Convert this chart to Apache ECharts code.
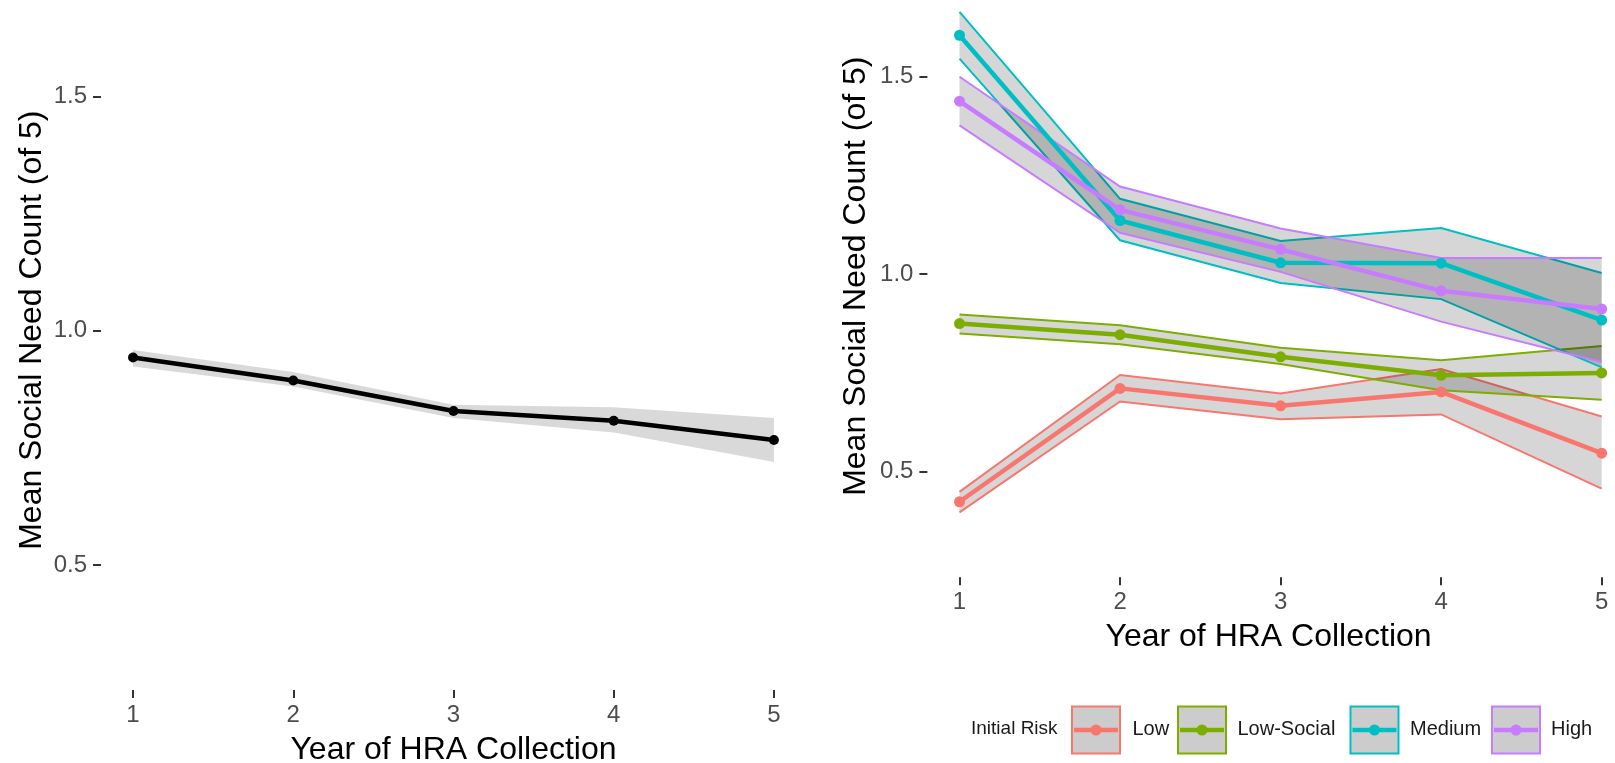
<!DOCTYPE html>
<html lang="en">
<head>
    <meta charset="UTF-8">
    <title>Mean Social Need Count by Year of HRA Collection</title>
    <script src="https://cdn.jsdelivr.net/npm/echarts@6/dist/echarts.min.js"></script>
    <style>
        *{
            padding:0;
            margin:0;
        }
        html,body{
            background:#fff;
        }
        #main{
            width:1615px;
            height:763px;
        }
    </style>
</head>
<body>
<div id="main"></div>
<script>
    // x categories (years) and y tick labels
    var years = [1, 2, 3, 4, 5];
    var yTicks = [0.5, 1.0, 1.5];

    // left panel: all members, mean with confidence band
    var allMean  = [0.943, 0.894, 0.829, 0.808, 0.767];
    var allLower = [0.924, 0.881, 0.814, 0.783, 0.720];
    var allUpper = [0.959, 0.912, 0.842, 0.837, 0.814];

    // right panel: by initial risk
    var riskNames  = ['Low', 'Low-Social', 'Medium', 'High'];
    var riskColors = ['#F8766D', '#7CAE00', '#00BFC4', '#C77CFF'];

    var lowMean  = [0.424, 0.711, 0.667, 0.702, 0.547];
    var lowLower = [0.397, 0.678, 0.633, 0.645, 0.457];
    var lowUpper = [0.449, 0.745, 0.698, 0.760, 0.640];

    var lowSocialMean  = [0.875, 0.847, 0.791, 0.744, 0.750];
    var lowSocialLower = [0.850, 0.823, 0.773, 0.706, 0.682];
    var lowSocialUpper = [0.898, 0.871, 0.814, 0.782, 0.818];

    var mediumMean  = [1.605, 1.136, 1.029, 1.028, 0.884];
    var mediumLower = [1.546, 1.086, 0.978, 0.937, 0.764];
    var mediumUpper = [1.664, 1.191, 1.084, 1.117, 1.003];

    var highMean  = [1.438, 1.163, 1.063, 0.958, 0.912];
    var highLower = [1.377, 1.105, 1.006, 0.880, 0.778];
    var highUpper = [1.500, 1.222, 1.116, 1.041, 1.041];

    var riskMean  = [lowMean, lowSocialMean, mediumMean, highMean];
    var riskLower = [lowLower, lowSocialLower, mediumLower, highLower];
    var riskUpper = [lowUpper, lowSocialUpper, mediumUpper, highUpper];

    var font = "'Liberation Sans', Arial, sans-serif";

    function pairs(vals){
        return years.map(function(x, i){ return [x, vals[i]]; });
    }

    // ribbon: one polygon between lower and upper, drawn once through api.coord
    function band(name, idx, lo, hi, color, outline, alpha){
        return {
            type:'custom', name:name + ' band', xAxisIndex:idx, yAxisIndex:idx,
            silent:true, z:2, clip:true,
            data:years.map(function(x, i){ return [x, lo[i], hi[i]]; }),
            encode:{x:0, y:[1, 2]},
            renderItem:function(params, api){
                if(params.dataIndexInside !== 0) return null;
                var n = params.dataInsideLength, up = [], dn = [];
                for(var i = 0; i < n; i++){
                    up.push(api.coord([api.value(0, i), api.value(2, i)]));
                    dn.push(api.coord([api.value(0, i), api.value(1, i)]));
                }
                var kids = [{
                    type:'polygon', shape:{points:up.concat(dn.slice().reverse())},
                    style:{fill:'rgba(0,0,0,' + alpha + ')'}
                }];
                if(outline){
                    kids.push({type:'polyline', shape:{points:up}, style:{stroke:color, lineWidth:outline, fill:null}});
                    kids.push({type:'polyline', shape:{points:dn}, style:{stroke:color, lineWidth:outline, fill:null}});
                }
                return {type:'group', children:kids};
            }
        };
    }

    function mainLine(name, idx, vals, color, width, size){
        return {
            type:'line', name:name, xAxisIndex:idx, yAxisIndex:idx,
            data:pairs(vals), symbol:'circle', symbolSize:size, showSymbol:true, z:3,
            lineStyle:{color:color, width:width},
            itemStyle:{color:color}
        };
    }

    function xAx(idx, max){
        return {
            type:'value', gridIndex:idx, min:0.8, max:max,
            axisLine:{show:false}, splitLine:{show:false},
            axisTick:{customValues:years, length:8, lineStyle:{color:'#333', width:2}},
            axisLabel:{customValues:years, margin:13, fontSize:24, color:'#4d4d4d', fontFamily:font},
            name:'Year of HRA Collection', nameLocation:'middle', nameGap:44,
            nameTextStyle:{fontSize:32, color:'#000', fontFamily:font}
        };
    }
    function yAx(idx, max, gap){
        return {
            type:'value', gridIndex:idx, min:0.233, max:max,
            axisLine:{show:false}, splitLine:{show:false},
            axisTick:{customValues:yTicks, length:8, lineStyle:{color:'#333', width:2}},
            axisLabel:{customValues:yTicks, margin:14, fontSize:24, color:'#4d4d4d', fontFamily:font,
                formatter:function(v){ return v.toFixed(1); }},
            name:'Mean Social Need Count (of 5)', nameLocation:'middle', nameGap:gap,
            nameTextStyle:{fontSize:32, color:'#000', fontFamily:font}
        };
    }

    var series = [];
    series.push(band('All', 0, allLower, allUpper, '#000', 0, 0.15));
    series.push(mainLine('All', 0, allMean, '#000', 4.5, 10));
    for(var i = 0; i < riskNames.length; i++){
        series.push(band(riskNames[i], 1, riskLower[i], riskUpper[i], riskColors[i], 2, 0.16));
    }
    for(var j = 0; j < riskNames.length; j++){
        series.push(mainLine(riskNames[j], 1, riskMean[j], riskColors[j], 4.5, 11));
    }

    // legend drawn as ggplot-style keys
    var legendBoxX  = [1072, 1178, 1350.5, 1492];
    var legendTextX = [1132.5, 1237.5, 1410, 1551];
    var legendY = 730;
    var graphics = [{
        type:'text', left:971, top:legendY - 11,
        style:{text:'Initial Risk', fontSize:19, fill:'#1a1a1a', fontFamily:font}
    }];
    for(var k = 0; k < riskNames.length; k++){
        var bx = legendBoxX[k];
        graphics.push({
            type:'rect', shape:{x:bx, y:legendY - 23.5, width:48, height:47},
            style:{fill:'#cccccc', stroke:riskColors[k], lineWidth:2}
        });
        graphics.push({
            type:'line', shape:{x1:bx + 2, y1:legendY, x2:bx + 46, y2:legendY},
            style:{stroke:riskColors[k], lineWidth:4.5}
        });
        graphics.push({
            type:'circle', shape:{cx:bx + 24, cy:legendY, r:5.5},
            style:{fill:riskColors[k]}
        });
        graphics.push({
            type:'text', left:legendTextX[k], top:legendY - 11,
            style:{text:riskNames[k], fontSize:20, fill:'#1a1a1a', fontFamily:font}
        });
    }

    var chart = echarts.init(document.getElementById('main'));
    chart.setOption({
        animation:false,
        backgroundColor:'#fff',
        textStyle:{fontFamily:font},
        grid:[
            {left:101, top:-29.7, width:705, height:719.7, outerBoundsMode:'none', containLabel:false},
            {left:927.4, top:-24.8, width:682.3, height:602, outerBoundsMode:'none', containLabel:false}
        ],
        xAxis:[xAx(0, 5.2), xAx(1, 5.05)],
        yAxis:[yAx(0, 1.77, 53), yAx(1, 1.757, 55)],
        series:series,
        graphic:graphics
    });
</script>
</body>
</html>
